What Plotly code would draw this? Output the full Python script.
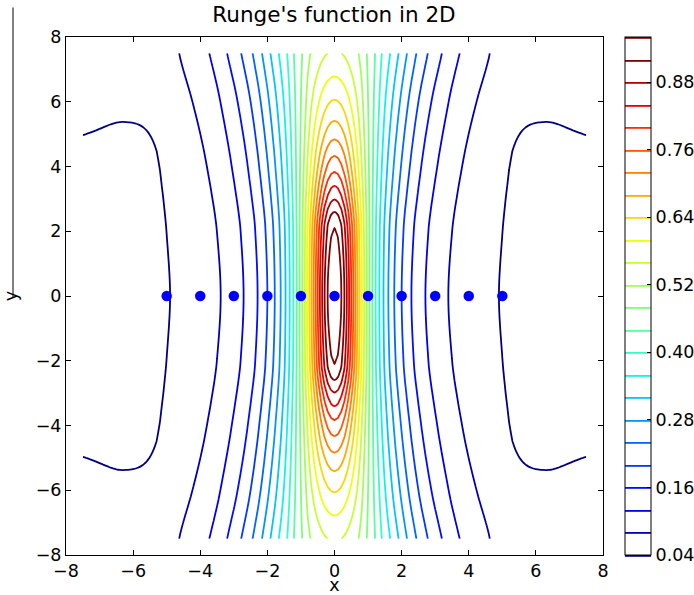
import numpy as np
import plotly.graph_objects as go

# ---------------- data ----------------
# interpolation nodes (blue dots)
node_x = [-5, -4, -3, -2, -1, 0, 1, 2, 3, 4, 5]
node_y = [0, 0, 0, 0, 0, 0, 0, 0, 0, 0, 0]

# value along the centre line x = 0 (contour apex heights)
centre_y = [0.0, 2.1, 2.6, 2.98, 3.4, 3.83, 4.33, 4.84, 5.41, 6.06, 6.78, 7.5]
centre_f = [1.0, 0.96, 0.92, 0.88, 0.84, 0.80, 0.76, 0.72, 0.68, 0.64, 0.60, 0.565]

# profile along the top/bottom edge |y| = 7.5 (contour crossings)
edge_x = [0.0, 0.72, 0.96, 1.21, 1.41, 1.66, 1.91, 2.16, 2.44, 2.78, 3.2, 3.73, 4.63, 5.3, 6.3, 7.5]
edge_f = [0.565, 0.52, 0.48, 0.44, 0.40, 0.36, 0.32, 0.28, 0.24, 0.20, 0.16, 0.12, 0.08, 0.0505, 0.056, 0.0716]

# how far the outer contour lines have moved toward the edge profile
outer_y = [0.0, 2.04, 4.1, 6.1, 7.5]
outer_w = [0.0, 0.08, 0.28, 0.62, 1.0]

# contour levels / ticks
level_start, level_end, level_step = 0.04, 0.96, 0.04
cbar_ticks = [0.04, 0.16, 0.28, 0.40, 0.52, 0.64, 0.76, 0.88]
axis_ticks = [-8, -6, -4, -2, 0, 2, 4, 6, 8]
grid_lim = 7.5


# ---------------- helpers ----------------
def pchip(xk, yk, x):
    xk = np.asarray(xk, float); yk = np.asarray(yk, float)
    h = np.diff(xk); d = np.diff(yk) / h
    m = np.zeros_like(yk)
    for k in range(1, len(xk) - 1):
        if d[k - 1] * d[k] > 0:
            w1 = 2 * h[k] + h[k - 1]; w2 = h[k] + 2 * h[k - 1]
            m[k] = (w1 + w2) / (w1 / d[k - 1] + w2 / d[k])
    m[0] = d[0]; m[-1] = d[-1]
    x = np.clip(np.asarray(x, float), xk[0], xk[-1])
    i = np.clip(np.searchsorted(xk, x) - 1, 0, len(xk) - 2)
    t = (x - xk[i]) / h[i]
    h00 = 2 * t**3 - 3 * t**2 + 1; h10 = t**3 - 2 * t**2 + t
    h01 = -2 * t**3 + 3 * t**2; h11 = t**3 - t**2
    return h00 * yk[i] + h10 * h[i] * m[i] + h01 * yk[i + 1] + h11 * h[i] * m[i + 1]

def mirror(a, b):
    a = list(a); b = list(b)
    return [-v for v in a[:0:-1]] + a, b[:0:-1] + b

def runge(x):
    return 1.0 / (1.0 + x**2)

cy, cf = mirror(centre_y, centre_f)
ex, ef = mirror(edge_x, edge_f)
oy, ow = mirror(outer_y, outer_w)

gx = np.linspace(-grid_lim, grid_lim, 151)
gy = np.linspace(-grid_lim, grid_lim, 151)
GX, GY = np.meshgrid(gx, gy)
P0 = edge_f[0]
w_centre = (1.0 - pchip(cy, cf, GY)) / (1.0 - P0)
w_outer = pchip(oy, ow, GY)
g = 1.0 / (1.0 + (GX / 1.5) ** 2)
W = g * w_centre + (1 - g) * w_outer
Z = runge(GX) * (1 - W) + W * pchip(ex, ef, GX)

# matplotlib 'jet'
def jet_scale():
    r = [(0, 0), (0.35, 0), (0.66, 1), (0.89, 1), (1, 0.5)]
    gg = [(0, 0), (0.125, 0), (0.375, 1), (0.64, 1), (0.91, 0), (1, 0)]
    b = [(0, 0.5), (0.11, 1), (0.34, 1), (0.65, 0), (1, 0)]
    pts = sorted(set([p for p, _ in r + gg + b]))
    out = []
    for p in pts:
        cr = np.interp(p, [a for a, _ in r], [c for _, c in r])
        cg = np.interp(p, [a for a, _ in gg], [c for _, c in gg])
        cb = np.interp(p, [a for a, _ in b], [c for _, c in b])
        out.append([p, f"rgb({int(round(cr*255))},{int(round(cg*255))},{int(round(cb*255))})"])
    return out

FONT = "DejaVu Sans"
TICK = 17.5
L, R, T, B = 66, 91, 37, 40
PW = 694 - L - R

fig = go.Figure()
fig.add_trace(go.Contour(
    x=gx, y=gy, z=Z,
    colorscale=jet_scale(), zmin=level_start, zmax=level_end, zauto=False,
    contours=dict(start=level_start, end=level_end + 1e-9, size=level_step, coloring="lines"),
    line=dict(width=1.8),
    colorbar=dict(
        x=(625 - L) / PW, xanchor="left", xpad=0,
        y=0.5, yanchor="middle", ypad=0,
        lenmode="fraction", len=1.0, thickness=26,
        outlinewidth=1, outlinecolor="black",
        tickvals=cbar_ticks, ticktext=[f"{v:.2f}" for v in cbar_ticks],
        ticks="inside", ticklen=4, tickcolor="black",
        tickfont=dict(family=FONT, size=TICK, color="black"),
    ),
    hoverinfo="skip",
))
fig.add_trace(go.Scatter(
    x=node_x, y=node_y, mode="markers",
    marker=dict(size=10.5, color="blue", line=dict(width=0)),
    showlegend=False,
))

axis_common = dict(
    range=[-8, 8], tickvals=axis_ticks, ticks="inside", ticklen=5, tickcolor="black",
    showline=True, linecolor="black", linewidth=1, mirror="allticks",
    showgrid=False, zeroline=False,
    tickfont=dict(family=FONT, size=TICK, color="black"),
)
fig.update_layout(
    width=694, height=595,
    margin=dict(l=L, r=R, t=T, b=B, autoexpand=False),
    paper_bgcolor="white", plot_bgcolor="white",
    title=dict(text="Runge's function in 2D", x=334 / 694, xref="container", xanchor="center",
               y=1 - 14 / 595, yref="container", yanchor="middle",
               font=dict(family=FONT, size=21.5, color="black")),
    xaxis=dict(**axis_common, title=dict(text="x", standoff=1,
               font=dict(family=FONT, size=TICK, color="black"))),
    yaxis=dict(**axis_common, title=dict(text="y", standoff=13,
               font=dict(family=FONT, size=TICK, color="black"))),
    showlegend=False,
    shapes=[dict(type="line", xref="paper", yref="paper", x0=(13 - L) / PW, x1=(13 - L) / PW,
                 y0=1.057, y1=0.496, line=dict(color="black", width=1))],
)
fig.write_html("out.html", config={"displayModeBar": False},
               post_script="document.body.style.margin='0';document.body.style.padding='0';")
